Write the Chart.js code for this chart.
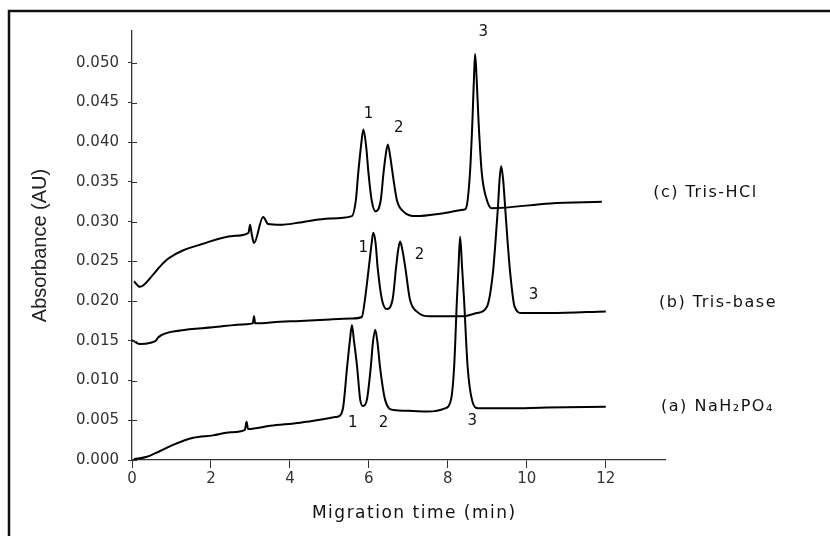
<!DOCTYPE html>
<html>
<head>
<meta charset="utf-8">
<title>Migration time chromatograms</title>
<script src="https://cdn.jsdelivr.net/npm/chart.js@4.4.1/dist/chart.umd.min.js"></script>
<style>
  body { margin: 0; background: #fff; }
  #wrap { width: 830px; height: 536px; }
</style>
</head>
<body>
<div id="wrap"><canvas id="chromChart" width="830" height="536"></canvas></div>
<script>
    // (a) NaH2PO4
    const timeA = [0.05, 0.38, 0.7, 1.04, 1.55, 2.05, 2.5, 2.86, 2.9, 2.94, 3.5, 4.26, 4.8, 5.15, 5.27, 5.35, 5.45, 5.52, 5.57, 5.62, 5.70, 5.78, 5.85, 5.95, 6.05, 6.10, 6.16, 6.22, 6.28, 6.41, 6.62, 7.0, 7.5, 7.93, 8.08, 8.16, 8.23, 8.27, 8.31, 8.36, 8.41, 8.50, 8.61, 8.77, 9.5, 10.5, 12.0];
    const absA = [0.0001, 0.0004, 0.0011, 0.0019, 0.0028, 0.0031, 0.0035, 0.0038, 0.0048, 0.0039, 0.0043, 0.0047, 0.0051, 0.0054, 0.0056, 0.0067, 0.0118, 0.0151, 0.0170, 0.0151, 0.0118, 0.0076, 0.0068, 0.0076, 0.0118, 0.0147, 0.0164, 0.0147, 0.0118, 0.0076, 0.0063, 0.0062, 0.0061, 0.0065, 0.0076, 0.0118, 0.0202, 0.0243, 0.0281, 0.0243, 0.0202, 0.0118, 0.0076, 0.0065, 0.0065, 0.0066, 0.0067];

    // (b) Tris-base
    const timeB = [0.0, 0.2, 0.5, 0.6, 0.68, 1.22, 2.05, 2.9, 3.06, 3.09, 3.12, 3.75, 4.26, 5.02, 5.57, 5.82, 5.90, 6.00, 6.07, 6.11, 6.17, 6.22, 6.33, 6.45, 6.60, 6.69, 6.74, 6.79, 6.85, 6.92, 7.04, 7.21, 7.55, 8.39, 8.73, 8.99, 9.14, 9.21, 9.27, 9.31, 9.35, 9.40, 9.45, 9.51, 9.58, 9.69, 9.87, 10.59, 12.0];
    const absB = [0.0151, 0.0146, 0.0148, 0.0150, 0.0155, 0.0163, 0.0167, 0.0171, 0.0172, 0.0181, 0.0172, 0.0174, 0.0175, 0.0177, 0.0178, 0.0180, 0.0202, 0.0243, 0.0273, 0.0286, 0.0273, 0.0243, 0.0202, 0.0190, 0.0202, 0.0243, 0.0264, 0.0275, 0.0264, 0.0243, 0.0202, 0.0187, 0.0181, 0.0181, 0.0185, 0.0193, 0.0235, 0.0277, 0.0319, 0.0353, 0.0370, 0.0353, 0.0319, 0.0277, 0.0235, 0.0193, 0.0185, 0.0185, 0.0187];

    // (c) Tris-HCl
    const timeC = [0.05, 0.2, 0.53, 0.7, 0.88, 1.1, 1.3, 1.72, 2.56, 2.95, 2.99, 3.03, 3.09, 3.32, 3.45, 3.75, 4.26, 5.0, 5.57, 5.67, 5.73, 5.80, 5.86, 5.93, 5.99, 6.07, 6.17, 6.30, 6.37, 6.42, 6.48, 6.54, 6.60, 6.71, 6.87, 7.21, 7.80, 8.39, 8.46, 8.56, 8.62, 8.66, 8.69, 8.73, 8.78, 8.86, 8.99, 9.11, 10.59, 11.9];
    const absC = [0.0225, 0.0218, 0.0233, 0.0243, 0.0252, 0.0259, 0.0264, 0.0271, 0.0282, 0.0286, 0.0296, 0.0285, 0.0273, 0.0306, 0.0297, 0.0296, 0.0299, 0.0304, 0.0307, 0.0327, 0.0361, 0.0395, 0.0416, 0.0395, 0.0361, 0.0327, 0.0313, 0.0327, 0.0361, 0.0382, 0.0397, 0.0382, 0.0361, 0.0327, 0.0313, 0.0307, 0.0310, 0.0315, 0.0317, 0.0361, 0.0424, 0.0479, 0.0511, 0.0479, 0.0424, 0.0361, 0.0327, 0.0317, 0.0323, 0.0325];

    // Peak numbers (c, b, a)
    const peakLabels = ['1', '2', '3', '1', '2', '3', '1', '2', '3'];
    const peakLabelTime = [5.99, 6.76, 8.90, 5.86, 7.28, 10.17, 5.59, 6.37, 8.62];
    const peakLabelAbs = [0.0435, 0.0418, 0.0539, 0.0267, 0.0258, 0.0208, 0.0047, 0.0047, 0.0049];

    // Buffer names next to each trace
    const bufferNames = ['(c) Tris-HCl', '(b) Tris-base', '(a) NaH\u2082PO\u2084'];
    const bufferLabelTime = [13.2, 13.35, 13.4];
    const bufferLabelAbs = [0.0336, 0.0198, 0.0067];

    function toPoints(xs, ys) {
      return xs.map((t, i) => ({ x: t, y: ys[i] }));
    }

    // Frame, inner tick halves and text labels
    const annotate = {
      id: 'annotate',
      beforeDraw(chart) {
        const ctx = chart.ctx;
        ctx.save();
        ctx.fillStyle = '#fff';
        ctx.fillRect(0, 0, chart.width, chart.height);
        ctx.strokeStyle = '#111';
        ctx.lineWidth = 2.5;
        ctx.beginPath();
        ctx.moveTo(9, chart.height);
        ctx.lineTo(9, 11);
        ctx.lineTo(chart.width, 11);
        ctx.stroke();
        ctx.restore();
      },
      afterDraw(chart) {
        const { ctx, chartArea, scales: { x, y } } = chart;
        ctx.save();
        ctx.strokeStyle = '#333';
        ctx.lineWidth = 1;
        y.ticks.forEach(t => {
          const py = Math.round(y.getPixelForValue(t.value)) + 0.5;
          ctx.beginPath();
          ctx.moveTo(chartArea.left, py);
          ctx.lineTo(chartArea.left + 5, py);
          ctx.stroke();
        });

        ctx.fillStyle = '#111';
        ctx.textBaseline = 'middle';
        ctx.textAlign = 'center';
        ctx.font = '15px "DejaVu Sans"';
        peakLabels.forEach((txt, i) => {
          ctx.fillText(txt, x.getPixelForValue(peakLabelTime[i]), y.getPixelForValue(peakLabelAbs[i]));
        });

        ctx.letterSpacing = '1.5px';
        ctx.textAlign = 'left';
        ctx.font = '16px "DejaVu Sans"';
        bufferNames.forEach((txt, i) => {
          ctx.fillText(txt, x.getPixelForValue(bufferLabelTime[i]), y.getPixelForValue(bufferLabelAbs[i]));
        });

        ctx.textAlign = 'center';
        ctx.font = '17px "DejaVu Sans"';
        ctx.fillText('Migration time (min)', x.getPixelForValue(7.15), chartArea.bottom + 54);
        ctx.restore();
      }
    };

    const lineStyle = {
      showLine: true,
      borderColor: '#000',
      borderWidth: 2,
      pointRadius: 0,
      cubicInterpolationMode: 'monotone'
    };

    new Chart(document.getElementById('chromChart'), {
      type: 'scatter',
      data: {
        datasets: [
          Object.assign({ label: 'NaH2PO4', data: toPoints(timeA, absA) }, lineStyle),
          Object.assign({ label: 'Tris-base', data: toPoints(timeB, absB) }, lineStyle),
          Object.assign({ label: 'Tris-HCl', data: toPoints(timeC, absC) }, lineStyle)
        ]
      },
      options: {
        responsive: false,
        animation: false,
        layout: {
          padding: { left: 0, top: 31, right: 165, bottom: 0 }
        },
        plugins: {
          legend: { display: false },
          tooltip: { enabled: false }
        },
        scales: {
          x: {
            type: 'linear',
            min: 0,
            max: 13.5,
            afterFit: scale => { scale.height = 76; },
            border: { display: true, color: '#333', width: 1.3 },
            grid: { drawOnChartArea: false, color: '#333', tickLength: 8 },
            ticks: {
              stepSize: 2,
              includeBounds: false,
              padding: 2,
              color: '#333',
              font: { family: 'DejaVu Sans', size: 15 }
            }
          },
          y: {
            type: 'linear',
            min: 0,
            max: 0.054,
            afterFit: scale => { scale.width = 132; },
            border: { display: true, color: '#333', width: 1.3 },
            grid: { drawOnChartArea: false, color: '#333', tickLength: 4 },
            ticks: {
              stepSize: 0.005,
              includeBounds: false,
              padding: 9,
              color: '#333',
              font: { family: 'DejaVu Sans', size: 15 },
              callback: v => v.toFixed(3)
            },
            title: {
              display: true,
              text: 'Absorbance (AU)',
              color: '#222',
              font: { family: 'Liberation Sans', size: 20 },
              padding: { top: 28, bottom: 0 }
            }
          }
        }
      },
      plugins: [annotate]
    });
</script>
</body>
</html>
